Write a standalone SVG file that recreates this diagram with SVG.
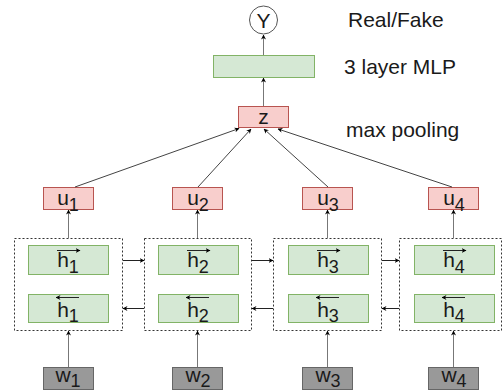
<svg xmlns="http://www.w3.org/2000/svg" width="503" height="390" viewBox="0 0 503 390">
<defs>
<marker id="ah" viewBox="0 0 10 10" refX="9" refY="5" markerWidth="5" markerHeight="5" orient="auto" markerUnits="userSpaceOnUse">
<path d="M0,0 L10,5 L0,10 L3,5 z" fill="#000"/>
</marker>
<style>
text{font-family:"Liberation Sans",Arial,sans-serif;font-size:21px;fill:#1a1a1a}
.c{text-anchor:middle}
.s{font-size:18px}
.red{fill:#f8cecc;stroke:#b85450;stroke-width:1}
.grn{fill:#d5e8d4;stroke:#82b366;stroke-width:1}
.gry{fill:#999999;stroke:#666666;stroke-width:1}
.dash{fill:none;stroke:#333;stroke-width:1;stroke-dasharray:2 2}
.v{stroke:#777;stroke-width:1;fill:none;marker-end:url(#ah)}
.h{stroke:#222;stroke-width:1;fill:none;marker-end:url(#ah)}
.d{stroke:#444;stroke-width:1;fill:none;marker-end:url(#ah)}
.ov{stroke:#222;stroke-width:1;fill:none;marker-end:url(#ah)}
</style>
</defs>
<g id="labels">
<text x="348" y="27">Real/Fake</text>
<text x="344" y="74">3 layer MLP</text>
<text x="346" y="137">max pooling</text>
</g>
<g id="Y"><circle cx="263.5" cy="20" r="14" fill="#fff" stroke="#555"/><text class="c" x="263.5" y="28">Y</text></g>
<g id="mlp"><rect class="grn" x="213.5" y="55.5" width="101" height="22"/></g>
<g id="z"><rect class="red" x="238.5" y="106.5" width="50" height="21"/><text class="c" x="263.5" y="124">z</text></g>
<g id="u1"><rect class="red" x="43.5" y="187.5" width="50" height="22"/><text class="c" x="68" y="205">u<tspan class="s" dy="6">1</tspan></text></g>
<g id="u2"><rect class="red" x="172.5" y="187.5" width="50" height="22"/><text class="c" x="198" y="205">u<tspan class="s" dy="6">2</tspan></text></g>
<g id="u3"><rect class="red" x="302.5" y="187.5" width="50" height="22"/><text class="c" x="328" y="205">u<tspan class="s" dy="6">3</tspan></text></g>
<g id="u4"><rect class="red" x="428.5" y="187.5" width="50" height="22"/><text class="c" x="454" y="205">u<tspan class="s" dy="6">4</tspan></text></g>
<g id="cell1"><rect class="dash" x="14.5" y="238.5" width="108" height="92"/>
<rect class="grn" x="28.5" y="245.5" width="80" height="29"/><text class="c" x="68" y="267">h<tspan class="s" dy="6">1</tspan></text><line class="ov" x1="57" y1="250.5" x2="80" y2="250.5"/>
<rect class="grn" x="28.5" y="294.5" width="80" height="28"/><text class="c" x="68" y="317">h<tspan class="s" dy="5">1</tspan></text><line class="ov" x1="79" y1="297.5" x2="56" y2="297.5"/></g>
<g id="cell2"><rect class="dash" x="144.5" y="238.5" width="107" height="92"/>
<rect class="grn" x="158.5" y="245.5" width="80" height="29"/><text class="c" x="198" y="267">h<tspan class="s" dy="6">2</tspan></text><line class="ov" x1="187" y1="250.5" x2="210" y2="250.5"/>
<rect class="grn" x="158.5" y="294.5" width="80" height="28"/><text class="c" x="198" y="317">h<tspan class="s" dy="5">2</tspan></text><line class="ov" x1="209" y1="297.5" x2="186" y2="297.5"/></g>
<g id="cell3"><rect class="dash" x="273.5" y="238.5" width="108" height="92"/>
<rect class="grn" x="288.5" y="245.5" width="80" height="29"/><text class="c" x="328" y="267">h<tspan class="s" dy="6">3</tspan></text><line class="ov" x1="317" y1="250.5" x2="340" y2="250.5"/>
<rect class="grn" x="288.5" y="294.5" width="80" height="28"/><text class="c" x="328" y="317">h<tspan class="s" dy="5">3</tspan></text><line class="ov" x1="339" y1="297.5" x2="316" y2="297.5"/></g>
<g id="cell4"><rect class="dash" x="399.5" y="238.5" width="102" height="92"/>
<rect class="grn" x="414.5" y="245.5" width="80" height="29"/><text class="c" x="454" y="267">h<tspan class="s" dy="6">4</tspan></text><line class="ov" x1="443" y1="250.5" x2="466" y2="250.5"/>
<rect class="grn" x="414.5" y="294.5" width="80" height="28"/><text class="c" x="454" y="317">h<tspan class="s" dy="5">4</tspan></text><line class="ov" x1="465" y1="297.5" x2="442" y2="297.5"/></g>
<g id="w1"><rect class="gry" x="43.5" y="367.5" width="50" height="22"/><text class="c" x="68" y="382">w<tspan class="s" dy="5">1</tspan></text></g>
<g id="w2"><rect class="gry" x="172.5" y="367.5" width="50" height="22"/><text class="c" x="198" y="382">w<tspan class="s" dy="5">2</tspan></text></g>
<g id="w3"><rect class="gry" x="302.5" y="367.5" width="50" height="22"/><text class="c" x="328" y="382">w<tspan class="s" dy="5">3</tspan></text></g>
<g id="w4"><rect class="gry" x="428.5" y="367.5" width="50" height="22"/><text class="c" x="454" y="382">w<tspan class="s" dy="5">4</tspan></text></g>
<g id="connectors">
<line class="v" x1="263.5" y1="106" x2="263.5" y2="78"/>
<line class="v" x1="263.5" y1="55" x2="263.5" y2="35"/>
<line class="d" x1="75" y1="187" x2="239" y2="128.5"/>
<line class="d" x1="198" y1="187" x2="251" y2="129"/>
<line class="d" x1="328" y1="187" x2="264" y2="129"/>
<line class="d" x1="452" y1="187" x2="278" y2="129"/>
<line class="v" x1="68.5" y1="238" x2="68.5" y2="210"/>
<line class="v" x1="197.5" y1="238" x2="197.5" y2="210"/>
<line class="v" x1="327.5" y1="238" x2="327.5" y2="210"/>
<line class="v" x1="453.5" y1="238" x2="453.5" y2="210"/>
<line class="v" x1="68.5" y1="367" x2="68.5" y2="331"/>
<line class="v" x1="197.5" y1="367" x2="197.5" y2="331"/>
<line class="v" x1="327.5" y1="367" x2="327.5" y2="331"/>
<line class="v" x1="453.5" y1="367" x2="453.5" y2="331"/>
<line class="h" x1="123" y1="260.5" x2="144" y2="260.5"/>
<line class="h" x1="252" y1="260.5" x2="273" y2="260.5"/>
<line class="h" x1="382" y1="260.5" x2="399" y2="260.5"/>
<line class="h" x1="144" y1="308.5" x2="123" y2="308.5"/>
<line class="h" x1="273" y1="308.5" x2="252" y2="308.5"/>
<line class="h" x1="399" y1="308.5" x2="382" y2="308.5"/>
</g>
</svg>
